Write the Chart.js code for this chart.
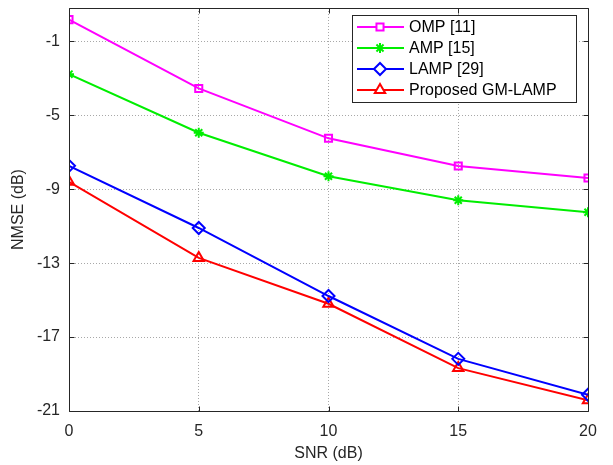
<!DOCTYPE html>
<html>
<head>
<meta charset="utf-8">
<script src="https://cdn.jsdelivr.net/npm/chart.js@4.4.0/dist/chart.umd.min.js"></script>
<style>
  html, body { margin: 0; padding: 0; background: #fff; }
  #wrap { width: 613px; height: 465px; }
</style>
</head>
<body>
<div id="wrap"><canvas id="c" width="613" height="465"></canvas></div>
<script>
// ---------- Data ----------
const SNR = [0, 5, 10, 15, 20];
const OMP = [0.17, -3.55, -6.25, -7.75, -8.4];
const AMP = [-2.78, -5.95, -8.3, -9.6, -10.25];
const LAMP = [-7.74, -11.1, -14.78, -18.18, -20.12];
const GM_LAMP = [-8.6, -12.72, -15.2, -18.68, -20.42];
const X_TICKS = [0, 5, 10, 15, 20];
const Y_TICKS = [-21, -17, -13, -9, -5, -1];

const FONT = 'Liberation Sans, Arial, Helvetica, sans-serif';

const series = [
  { label: 'OMP [11]', data: OMP, color: '#ff00ff', style: 'rect', r: 5 },
  { label: 'AMP [15]', data: AMP, color: '#00ee00', style: 'star', r: 5 },
  { label: 'LAMP [29]', data: LAMP, color: '#0000ff', style: 'rectRot', r: 6 },
  { label: 'Proposed GM-LAMP', data: GM_LAMP, color: '#ff0000', style: 'triangle', r: 6 }
];

// ---------- Frame + boxed legend (matlab look) ----------
const decor = {
  id: 'decor',
  afterDraw(chart) {
    const { ctx, chartArea: a } = chart;
    ctx.save();
    ctx.setLineDash([]);
    ctx.strokeStyle = '#262626';
    ctx.lineWidth = 1;
    const L = Math.round(a.left) + 0.5, T = Math.round(a.top) + 0.5;
    const R = Math.round(a.right) + 0.5, B = Math.round(a.bottom) + 0.5;
    ctx.beginPath();
    ctx.rect(L, T, R - L, B - T);
    // inward ticks
    const xs = chart.scales.x, ys = chart.scales.y;
    X_TICKS.forEach(v => {
      const px = Math.round(xs.getPixelForValue(v)) + 0.5;
      ctx.moveTo(px, B); ctx.lineTo(px, B - 5);
      ctx.moveTo(px, T); ctx.lineTo(px, T + 5);
    });
    Y_TICKS.forEach(v => {
      const py = Math.round(ys.getPixelForValue(v)) + 0.5;
      ctx.moveTo(L, py); ctx.lineTo(L + 5, py);
      ctx.moveTo(R, py); ctx.lineTo(R - 5, py);
    });
    ctx.stroke();

    // legend box
    const x0 = 352, y0 = 15, w = 224, h = 87;
    ctx.fillStyle = '#fff';
    ctx.fillRect(x0, y0, w, h);
    ctx.strokeRect(x0 + 0.5, y0 + 0.5, w, h);
    ctx.font = '16px ' + FONT;
    ctx.textBaseline = 'middle';
    series.forEach((s, i) => {
      const y = y0 + 12 + i * 21;
      ctx.strokeStyle = s.color;
      ctx.lineWidth = 2;
      ctx.beginPath();
      ctx.moveTo(x0 + 5, y); ctx.lineTo(x0 + 52, y);
      ctx.stroke();
      ctx.fillStyle = '#fff';
      Chart.helpers.drawPoint(ctx, { pointStyle: s.style, radius: s.r, borderWidth: 2, rotation: 0 }, x0 + 28, y);
      ctx.fillStyle = '#000';
      ctx.fillText(s.label, x0 + 57, y + 1);
    });
    ctx.restore();
  }
};

// ---------- Chart ----------
new Chart(document.getElementById('c'), {
  type: 'line',
  data: {
    datasets: series.map(s => ({
      label: s.label,
      data: SNR.map((x, i) => ({ x, y: s.data[i] })),
      borderColor: s.color,
      backgroundColor: 'rgba(0,0,0,0)',
      pointBorderColor: s.color,
      pointBackgroundColor: 'rgba(0,0,0,0)',
      pointStyle: s.style,
      pointRadius: s.r,
      pointBorderWidth: 2,
      borderWidth: 2,
      tension: 0
    }))
  },
  options: {
    responsive: false,
    animation: false,
    layout: { padding: { top: 0, right: 25, left: 0, bottom: 0 } },
    plugins: { legend: { display: false }, tooltip: { enabled: false } },
    scales: {
      x: {
        type: 'linear',
        min: 0, max: 20,
        afterBuildTicks: ax => { ax.ticks = X_TICKS.map(v => ({ value: v })); },
        afterFit: ax => { ax.height = 54; ax.paddingLeft = 0; ax.paddingRight = 0; },
        grid: { color: '#a8a8a8', lineWidth: 1, drawTicks: false },
        border: { display: false, dash: [1, 2] },
        ticks: { color: '#262626', font: { family: FONT, size: 16 }, padding: 11, maxRotation: 0 },
        title: { display: true, text: 'SNR (dB)', color: '#262626', font: { family: FONT, size: 16 }, padding: { top: 0, bottom: 2 } }
      },
      y: {
        min: -21, max: 0.8,
        afterBuildTicks: ax => { ax.ticks = Y_TICKS.map(v => ({ value: v })); },
        afterFit: ax => { ax.width = 69; ax.paddingTop = 0; ax.paddingBottom = 0; },
        grid: { color: '#a8a8a8', lineWidth: 1, drawTicks: false },
        border: { display: false, dash: [1, 2] },
        ticks: { color: '#262626', font: { family: FONT, size: 16 }, padding: 9 },
        title: { display: true, text: 'NMSE (dB)', color: '#262626', font: { family: FONT, size: 16 }, padding: { top: 9, bottom: 0 } }
      }
    }
  },
  plugins: [decor]
});
</script>
</body>
</html>
